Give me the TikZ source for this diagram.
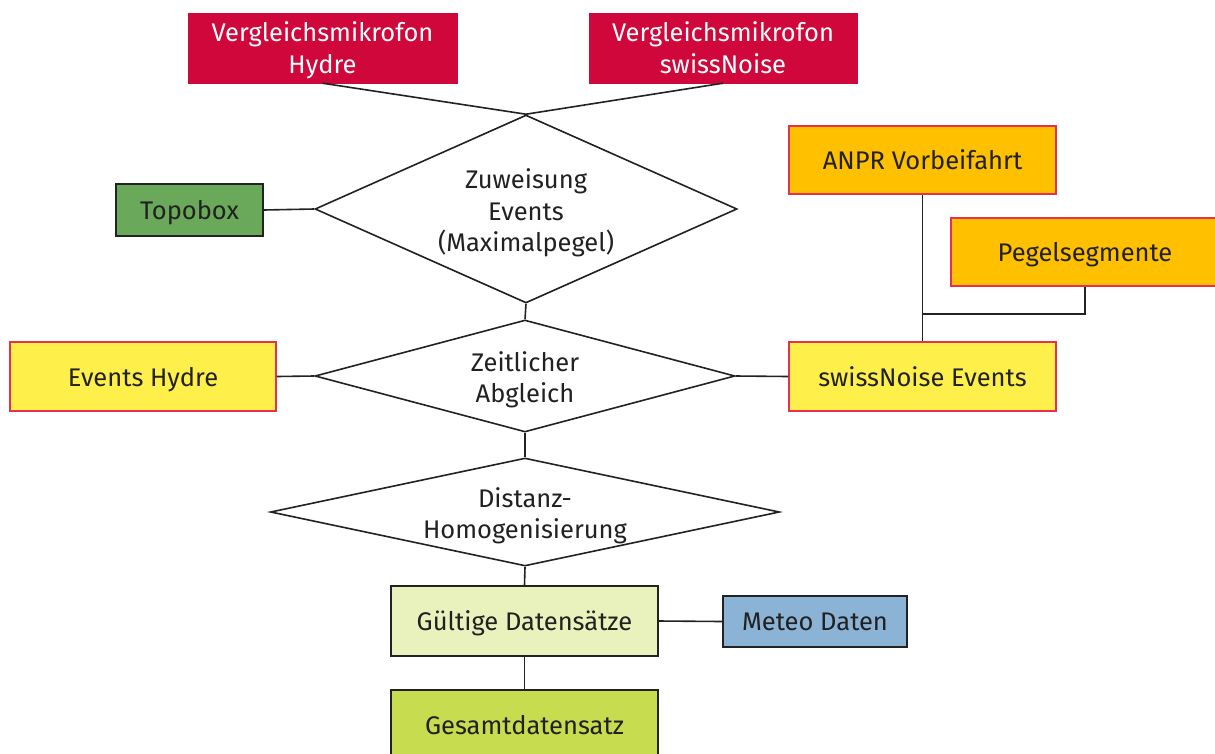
\documentclass[tikz,border=0pt]{standalone}
\usepackage{fontspec}
\setmainfont{Fira Sans}
\usetikzlibrary{shapes.geometric}
\definecolor{redbox}{HTML}{D0073A}
\definecolor{redline}{HTML}{E8304A}
\definecolor{yellowbox}{HTML}{FFEF4A}
\definecolor{orangebox}{HTML}{FFC000}
\definecolor{greenbox}{HTML}{6AA85A}
\definecolor{lightgreen}{HTML}{E9F2BD}
\definecolor{limebox}{HTML}{C8DC50}
\definecolor{bluebox}{HTML}{8AB3D6}
\definecolor{darkline}{HTML}{222222}
\tikzset{
  base/.style={rectangle, inner sep=0pt, align=center, text depth=0pt, font=\fontsize{25.5}{32}\selectfont, text=black!87},
  redstyle/.style={base, fill=redbox, draw=redbox, text=white},
  yellowstyle/.style={base, fill=yellowbox, draw=redline, line width=1.5pt},
  orangestyle/.style={base, fill=orangebox, draw=redline, line width=1.5pt},
  darkbox/.style={base, draw=darkline, line width=1.5pt},
  dia/.style={diamond, draw=darkline, line width=1.6pt, inner sep=0pt},
  diatext/.style={align=center, inner sep=0pt, yshift=-4pt, font=\fontsize{25.5}{31.5}\selectfont, text=black!87},
  conn/.style={draw=darkline, line width=1.6pt}
}
\begin{document}
\begin{tikzpicture}[x=1pt,y=-1pt]
\clip (0,0) rectangle (1215,753);
\fill[white] (0,0) rectangle (1215,753);
% red boxes
\node[redstyle, minimum width=269, minimum height=70] (vh) at (322.5,48) {Vergleichsmikrofon\\Hydre};
\node[redstyle, minimum width=268, minimum height=70] (vs) at (723,48) {Vergleichsmikrofon\\swissNoise};
% diamonds
\node[dia, minimum width=422, minimum height=188] (d1) at (526,209) {};
\node[diatext] (t1) at (d1.center) {Zuweisung\\Events\\(Maximalpegel)};
\node[dia, minimum width=420, minimum height=112] (d2) at (525,376) {};
\node[diatext] (t2) at (d2.center) {Zeitlicher\\Abgleich};
\node[dia, minimum width=509, minimum height=108] (d3) at (525,512) {};
\node[diatext] (t3) at (d3.center) {Distanz-\\Homogenisierung};
% side boxes
\node[darkbox, fill=greenbox, minimum width=147, minimum height=52] (topo) at (189.5,210) {Topobox};
\node[yellowstyle, minimum width=266, minimum height=69] (eh) at (143,376.5) {Events Hydre};
\node[yellowstyle, minimum width=267, minimum height=69] (se) at (922.5,376.5) {swissNoise Events};
\node[orangestyle, minimum width=267, minimum height=68] (anpr) at (922.5,160) {ANPR Vorbeifahrt};
\node[orangestyle, minimum width=268, minimum height=68] (peg) at (1085,252) {Pegelsegmente};
% bottom boxes
\node[darkbox, fill=lightgreen, minimum width=267, minimum height=70] (gd) at (524.5,621) {Gültige Datensätze};
\node[darkbox, fill=bluebox, minimum width=184, minimum height=51] (meteo) at (815,621.5) {Meteo Daten};
\node[darkbox, fill=limebox, minimum width=267, minimum height=70] (gs) at (524.5,725) {Gesamtdatensatz};
\coordinate (j) at (922,314);
% connectors
\draw[conn] (vh.south) -- (d1.north);
\draw[conn] (vs.south) -- (d1.north);
\draw[conn] (topo.east) -- (d1.west);
\draw[conn] (d1.south) -- (d2.north);
\draw[conn] (eh.east) -- (d2.west);
\draw[conn] (se.west) -- (d2.east);
\draw[conn] (anpr.south) -- (se.north);
\draw[conn] (peg.south) |- (j);
\draw[conn] (d2.south) -- (d3.north);
\draw[conn] (d3.south) -- (gd.north);
\draw[conn] (gd.east) -- (meteo.west);
\draw[conn] (gd.south) -- (gs.north);
\end{tikzpicture}
\end{document}
